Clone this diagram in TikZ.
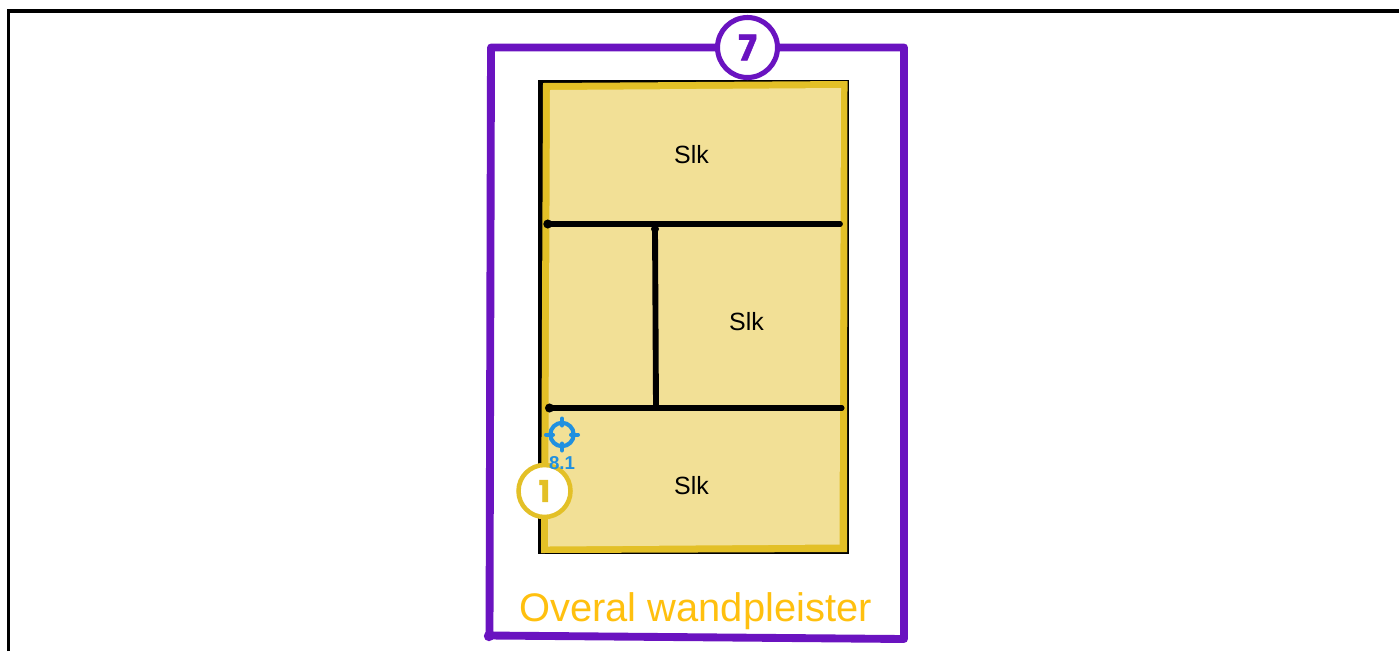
\documentclass[tikz,border=0pt]{standalone}
\usepackage{fontspec}
\setmainfont{Liberation Sans}
\newfontfamily\badgefont[BoldFeatures={FakeBold=1.2}]{Poppins}
\usepackage{tikz}
\usetikzlibrary{shapes,arrows}
\definecolor{wallPurple}{HTML}{6A13C0}
\definecolor{roomEdge}{HTML}{E3C027}
\definecolor{roomFill}{HTML}{F2E096}
\definecolor{plasterText}{HTML}{FFC00F}
\definecolor{targetBlue}{HTML}{2090E0}
\def\pixel{.75pt}
\tikzstyle{slk} = [font=\fontsize{18.7}{22}\selectfont, text=black, inner sep=0pt]
\tikzstyle{badge} = [circle, draw, fill=white, inner sep=0pt, font=\badgefont\bfseries]
\tikzstyle{wall} = [draw, line width=4.4pt, color=black, line cap=round]
\tikzstyle{wallend} = [circle, fill=black, inner sep=0pt, minimum size=6.8pt]
\tikzstyle{outline} = [draw, line width=5.9pt, color=wallPurple, line join=round, line cap=round]

\begin{document}
\begin{tikzpicture}[x=\pixel, y=-\pixel]
  \useasboundingbox (0,0) rectangle (1399,651);
  % Page frame
  \draw [line width=2.4pt, color=black] (8.7,651) -- (8.7,11) -- (1399,11);
  % Room shapes
  \path [outline] (491,47.5) -- (904,47.5) -- (904,639) -- (489.5,635.5) -- cycle;
  \fill [wallPurple] (489,636) circle [radius=5.2];
  \fill [black] (538,80) -- (849.3,80) -- (849.3,553.8) -- (538,553.8) -- cycle;
  \fill [roomEdge] (543,83) -- (847.5,81) -- (847,552) -- (541,553) -- cycle;
  \fill [roomFill] (550,90) -- (841,88) -- (839.5,544.5) -- (548,546.5) -- cycle;
  % Place nodes
  \node [slk] (slkTop) at (691.5,155) {Slk};
  \node [slk, below of=slkTop, node distance=331*\pixel] (slkBottom) {Slk};
  \node [slk, below of=slkTop, node distance=167*\pixel, xshift=55*\pixel] (slkMiddle) {Slk};
  \node [wallend] (upperLeft) at (547.8,224) {};
  \node [wallend, minimum size=4.4pt, right of=upperLeft, node distance=292*\pixel] (upperRight) {};
  \node [wallend] (lowerLeft) at (549.5,408) {};
  \node [wallend, minimum size=4.4pt, right of=lowerLeft, node distance=292*\pixel] (lowerRight) {};
  \node [wallend, minimum size=6pt] (stemTop) at (655,229) {};
  \coordinate (stemBottom) at (656,408);
  % Draw edges
  \path [wall] (upperLeft.center) -- (upperRight.center);
  \path [wall] (lowerLeft.center) -- (lowerRight.center);
  \path [wall] (stemTop.center) -- (stemBottom);
  % Badges
  \node [badge, draw=roomEdge, text=roomEdge, line width=3.4pt, minimum size=39pt, font=\badgefont\bfseries\fontsize{22.5}{24}\selectfont] (badgeOne) at (544.5,491) {1};
  \node [badge, draw=wallPurple, text=wallPurple, line width=3.8pt, minimum size=45pt, font=\badgefont\bfseries\fontsize{26.5}{28}\selectfont] (badgeSeven) at (747.5,47.5) {7};
  % Target mark
  \node [circle, draw=targetBlue, line width=3.1pt, minimum size=17.5pt, inner sep=0pt] (target) at (562,434.5) {};
  \foreach \a in {0,90,180,270}
    \draw [color=targetBlue, line width=3pt, line cap=round] (target.center) ++(\a:9) -- ++(\a:7);
  \node [below of=target, node distance=28.5*\pixel, inner sep=0pt, text=targetBlue, font=\fontsize{14}{16}\selectfont\bfseries] (targetLabel) {8.1};
  \node [inner sep=0pt, text=plasterText, font=\fontsize{29.9}{34}\selectfont] (plaster) at (695.5,611) {Overal wandpleister};
\end{tikzpicture}
\end{document}
